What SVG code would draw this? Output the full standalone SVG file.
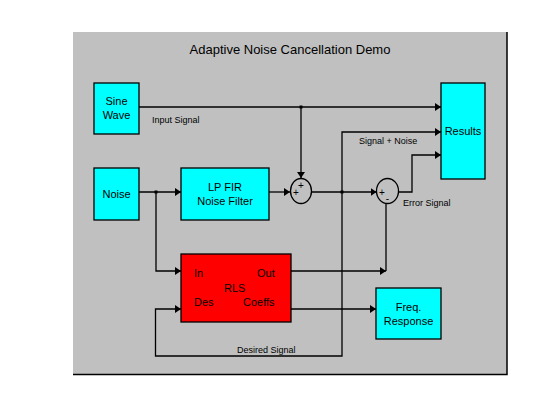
<svg xmlns="http://www.w3.org/2000/svg" width="560" height="420" viewBox="0 0 560 420">
<style>
.blk{stroke:#000;stroke-width:1.3}
.cy{fill:#00ffff}
.rd{fill:#ff0000}
.ln{fill:none;stroke:#000;stroke-width:1.3}
text{font-family:"Liberation Sans",Arial,sans-serif;fill:#000}
.t11{font-size:11px;text-anchor:middle}
.t9{font-size:9px}
.sg{font-size:10px;text-anchor:middle}
</style>
<defs>
<marker id="ar" markerUnits="userSpaceOnUse" markerWidth="8" markerHeight="10" refX="6" refY="4" orient="auto">
<path d="M0,0 L6,4 L0,8 z" fill="#000"/>
</marker>
</defs>
<rect x="0" y="0" width="560" height="420" fill="#fff"/>
<rect x="73" y="32" width="434" height="342" fill="#c0c0c0"/>
<path d="M507,32 V374.5 H73" fill="none" stroke="#000" stroke-width="1.5"/>
<text x="290" y="54" style="font-size:13px;text-anchor:middle">Adaptive Noise Cancellation Demo</text>

<g id="connectors">
<path class="ln" d="M139,107 H441" marker-end="url(#ar)"/>
<path class="ln" d="M301,107 V178" marker-end="url(#ar)"/>
<path class="ln" d="M139,192 H181" marker-end="url(#ar)"/>
<path class="ln" d="M156,192 V271 H181" marker-end="url(#ar)"/>
<path class="ln" d="M269,192 H290" marker-end="url(#ar)"/>
<path class="ln" d="M312,192 H376.5" marker-end="url(#ar)"/>
<path class="ln" d="M342,192 V132 H441" marker-end="url(#ar)"/>
<path class="ln" d="M342,192 V356 H155.5 V309 H181" marker-end="url(#ar)"/>
<path class="ln" d="M399,192 H412 V155 H441" marker-end="url(#ar)"/>
<path class="ln" d="M291,271 H386" marker-end="url(#ar)"/>
<path class="ln" d="M386,271 V203.5"/>
<path class="ln" d="M291,309 H376" marker-end="url(#ar)"/>
<rect x="154.5" y="190.5" width="3" height="3" fill="#000"/>
<rect x="299.5" y="105.5" width="3" height="3" fill="#000"/>
<rect x="340.5" y="190.5" width="3" height="3" fill="#000"/>
<text class="t9" x="152" y="123">Input Signal</text>
<text class="t9" x="359" y="144">Signal + Noise</text>
<text class="t9" x="403" y="206">Error Signal</text>
<text class="t9" x="237" y="353">Desired Signal</text>
</g>

<g id="sine">
<rect class="blk cy" x="94" y="83" width="45" height="51"/>
<text class="t11" x="116.5" y="105">Sine</text>
<text class="t11" x="116.5" y="119">Wave</text>
</g>
<g id="noise">
<rect class="blk cy" x="94" y="168" width="45" height="52"/>
<text class="t11" x="116.5" y="198">Noise</text>
</g>
<g id="lpfir">
<rect class="blk cy" x="181" y="168" width="88" height="52"/>
<text class="t11" x="225" y="191">LP FIR</text>
<text class="t11" x="225" y="205">Noise Filter</text>
</g>
<g id="sum1">
<ellipse class="ln" cx="301" cy="191" rx="10.5" ry="12.5"/>
<text class="sg" x="301" y="189">+</text>
<text class="sg" x="296" y="196">+</text>
</g>
<g id="sum2">
<ellipse class="ln" cx="387.5" cy="191" rx="11" ry="12.5"/>
<text class="sg" x="382" y="196">+</text>
<text class="sg" x="387.5" y="202">-</text>
</g>
<g id="results">
<rect class="blk cy" x="441" y="83" width="44" height="96"/>
<text class="t11" x="463" y="135">Results</text>
</g>
<g id="rls">
<rect class="blk rd" x="181" y="254" width="110" height="68"/>
<text x="194" y="277" style="font-size:11px">In</text>
<text x="257" y="277" style="font-size:11px">Out</text>
<text x="224" y="292" style="font-size:11px">RLS</text>
<text x="194" y="306" style="font-size:11px">Des</text>
<text x="243" y="306" style="font-size:11px">Coeffs</text>
</g>
<g id="freq">
<rect class="blk cy" x="376" y="288" width="65" height="51"/>
<text class="t11" x="408.5" y="311">Freq.</text>
<text class="t11" x="408.5" y="325">Response</text>
</g>
</svg>
